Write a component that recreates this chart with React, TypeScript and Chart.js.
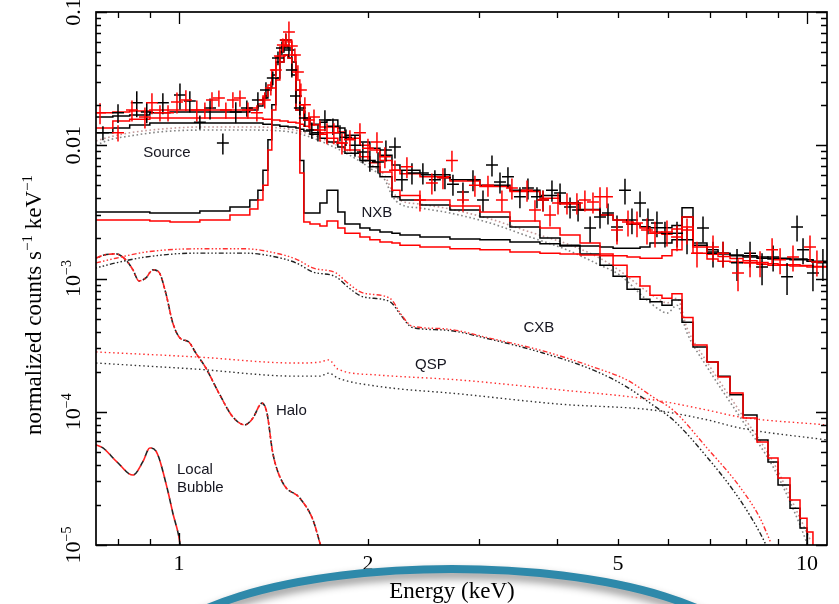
import React, { useEffect, useRef } from 'react';
import { Chart, registerables } from 'chart.js';

Chart.register(...registerables);

// ---------------- data (energy in keV, rate in counts s^-1 keV^-1) ----------------
const X_MIN = 0.738;
const X_MAX = 10.76;
const Y_MIN = 1e-5;
const Y_MAX = 0.1;

// common bin edges for the folded (stepped) model curves
const modelEdges = [0.738, 0.785, 0.835, 0.899, 0.968, 1.080, 1.206, 1.297, 1.336, 1.361, 1.386, 1.406, 1.427, 1.448, 1.470, 1.492, 1.513, 1.536, 1.558, 1.581, 1.617, 1.677, 1.721, 1.791, 1.838, 1.942, 2.014, 2.090, 2.184, 2.249, 2.420, 2.701, 3.015, 3.366, 3.757, 4.044, 4.351, 4.682, 4.912, 5.170, 5.422, 5.623, 5.876, 6.095, 6.324, 6.584, 6.931, 7.217, 7.541, 7.910, 8.325, 8.667, 8.992, 9.396, 9.747, 10.0, 10.22, 10.76];

const blackTotal = [0.0163, 0.0166, 0.0169, 0.0175, 0.0178, 0.0178, 0.0178, 0.0184, 0.0197, 0.0226, 0.0269, 0.0337, 0.0422, 0.0501, 0.0556, 0.0537, 0.0422, 0.0260, 0.0184, 0.0155, 0.0144, 0.0149, 0.0155, 0.0135, 0.0119, 0.0106, 0.0095, 0.0084, 0.0071, 0.0065, 0.0060, 0.0055, 0.0050, 0.0046, 0.0042, 0.0037, 0.0033, 0.0030, 0.00275, 0.00255, 0.00245, 0.0024, 0.0024, 0.0025, 0.0034, 0.00185, 0.00158, 0.00153, 0.00148, 0.00145, 0.00142, 0.00140, 0.00140, 0.00138, 0.00138, 0.00135, 0.00133];
const redTotal = [0.0175, 0.0178, 0.0181, 0.0184, 0.0184, 0.0184, 0.0184, 0.0190, 0.0204, 0.0234, 0.0283, 0.0367, 0.0460, 0.0546, 0.0617, 0.0596, 0.0476, 0.0309, 0.0201, 0.0160, 0.0142, 0.0137, 0.0137, 0.0126, 0.0113, 0.0100, 0.0092, 0.0077, 0.0065, 0.0061, 0.0058, 0.0054, 0.0049, 0.0045, 0.0040, 0.00362, 0.00327, 0.00300, 0.00275, 0.00256, 0.00239, 0.00223, 0.00215, 0.00235, 0.0029, 0.00172, 0.00152, 0.00146, 0.00141, 0.00136, 0.00132, 0.00129, 0.00127, 0.00127, 0.00125, 0.00125, 0.00123];
const blackNXB = [0.00315, 0.00315, 0.00315, 0.00310, 0.00310, 0.00321, 0.00344, 0.00388, 0.0046, 0.0065, 0.0110, 0.0201, 0.0320, 0.0422, 0.0476, 0.0452, 0.0337, 0.0184, 0.0077, 0.00310, 0.00310, 0.00369, 0.0046, 0.00315, 0.00256, 0.00239, 0.00231, 0.00223, 0.00219, 0.00212, 0.00205, 0.00198, 0.00195, 0.00188, 0.00182, 0.00178, 0.00175, 0.00172, 0.00169, 0.00169, 0.00172, 0.00185, 0.00185, 0.00195, 0.00289, 0.00178, 0.00164, 0.00155, 0.00150, 0.00148, 0.00145, 0.00142, 0.00142, 0.00140, 0.00140, 0.00138, 0.00135];
const redNXB = [0.00275, 0.00275, 0.00275, 0.00270, 0.00265, 0.00275, 0.00300, 0.00332, 0.00388, 0.0050, 0.0092, 0.0184, 0.0309, 0.0422, 0.0476, 0.0452, 0.0367, 0.0184, 0.0062, 0.00265, 0.00256, 0.00248, 0.00270, 0.00239, 0.00219, 0.00205, 0.00195, 0.00188, 0.00185, 0.00178, 0.00172, 0.00167, 0.00164, 0.00158, 0.00155, 0.00153, 0.00150, 0.00148, 0.00148, 0.00145, 0.00142, 0.00142, 0.00148, 0.00164, 0.00243, 0.00155, 0.00140, 0.00135, 0.00133, 0.00131, 0.00128, 0.00126, 0.00126, 0.00124, 0.00124, 0.00122, 0.00122];
const blackSky = [0.0124, 0.0135, 0.0142, 0.0147, 0.0147, 0.0147, 0.0147, 0.0147, 0.0147, 0.0144, 0.0144, 0.0142, 0.0142, 0.0139, 0.0139, 0.0137, 0.0137, 0.0135, 0.0132, 0.0128, 0.0121, 0.0113, 0.0106, 0.0097, 0.0087, 0.0077, 0.0069, 0.0058, 0.0041, 0.00388, 0.00356, 0.00327, 0.00289, 0.00243, 0.00201, 0.00175, 0.00153, 0.00126, 0.00104, 0.00083, 0.00070, 0.00067, 0.00063, 0.00069, 0.00047, 0.000306, 0.000236, 0.000185, 0.000134, 0.0000945, 0.0000614, 0.000042, 0.0000282, 0.0000189, 0.0000134, 0.000006, 0.000003];
const redSky = [0.0135, 0.0152, 0.0157, 0.0160, 0.0160, 0.0160, 0.0160, 0.0160, 0.0160, 0.0157, 0.0157, 0.0155, 0.0155, 0.0152, 0.0152, 0.0149, 0.0149, 0.0147, 0.0144, 0.0139, 0.0130, 0.0121, 0.0113, 0.0104, 0.0092, 0.0082, 0.0074, 0.0063, 0.0046, 0.0042, 0.00388, 0.00350, 0.00315, 0.00270, 0.00239, 0.00212, 0.00185, 0.00153, 0.00126, 0.00103, 0.00088, 0.00075, 0.00071, 0.00077, 0.00051, 0.000317, 0.000236, 0.000182, 0.000138, 0.0000898, 0.0000593, 0.000045, 0.0000318, 0.0000218, 0.0000159, 0.0000125, 0.000004];

// smooth model components
const sourceE = [0.738, 0.776, 0.835, 0.933, 1.080, 1.297, 1.502, 1.617, 1.740, 1.872, 2.014, 2.128, 2.184, 2.249, 2.420, 2.701, 3.128, 3.622, 4.148, 4.682, 5.037, 5.521, 5.833, 5.985, 6.209, 6.441, 6.931, 7.822, 8.831, 9.747, 10.11];
const sourceBlack = [0.0100, 0.0110, 0.01173, 0.0126, 0.0130, 0.0130, 0.0126, 0.01153, 0.0100, 0.0084, 0.00675, 0.0055, 0.0042, 0.00362, 0.00338, 0.00310, 0.00261, 0.00205, 0.00164, 0.00126, 0.00106, 0.00071, 0.00058, 0.00055, 0.00063, 0.00039, 0.000217, 0.0000913, 0.0000385, 0.0000141, 0.0000089];
const sourceRed = [0.01076, 0.01153, 0.0124, 0.0132, 0.0137, 0.0137, 0.0132, 0.0121, 0.0106, 0.0089, 0.00723, 0.00588, 0.0046, 0.00388, 0.00362, 0.00332, 0.00280, 0.00223, 0.00182, 0.00142, 0.00114, 0.00082, 0.00069, 0.000655, 0.00071, 0.000425, 0.000236, 0.0001, 0.000042, 0.0000159, 0.000011];

const cxbE = [0.738, 0.794, 0.886, 1.064, 1.278, 1.427, 1.536, 1.634, 1.778, 1.865, 1.963, 2.168, 2.257, 2.350, 2.633, 3.162, 3.799, 4.563, 5.170, 5.685, 6.119, 6.931, 7.822, 8.418, 8.75];
const cxbBlack = [0.00120, 0.00131, 0.00145, 0.00155, 0.00155, 0.00145, 0.00131, 0.00112, 0.00103, 0.00085, 0.00073, 0.00067, 0.00053, 0.00043, 0.000411, 0.000346, 0.000276, 0.000206, 0.000153, 0.000112, 0.000087, 0.0000457, 0.0000218, 0.0000123, 0.0000085];
const cxbRed = [0.00131, 0.00142, 0.00158, 0.00167, 0.00167, 0.00155, 0.00140, 0.00120, 0.00110, 0.00091, 0.00078, 0.00071, 0.00054, 0.00044, 0.00042, 0.000352, 0.000286, 0.000217, 0.000173, 0.000129, 0.000103, 0.0000535, 0.0000272, 0.0000159, 0.0000105];

const qspE = [0.738, 1.064, 1.536, 1.677, 1.733, 1.791, 2.059, 2.802, 4.044, 5.685, 6.931, 7.822, 10.76];
const qspRed = [0.000281, 0.000258, 0.000232, 0.000236, 0.000245, 0.000209, 0.000189, 0.000173, 0.000146, 0.000123, 0.000103, 0.0000913, 0.0000796];
const qspBlack = [0.000232, 0.000209, 0.000185, 0.000185, 0.000195, 0.000179, 0.000156, 0.000136, 0.000114, 0.000103, 0.000087, 0.0000755, 0.0000614];

const haloE = [0.738, 0.760, 0.794, 0.823, 0.845, 0.864, 0.886, 0.909, 0.929, 0.953, 0.978, 1.004, 1.037, 1.064, 1.104, 1.158, 1.219, 1.274, 1.312, 1.356, 1.381, 1.411, 1.464, 1.558, 1.634, 1.677, 1.689];
const haloV = [0.00142, 0.00150, 0.00153, 0.00138, 0.00116, 0.000958, 0.00101, 0.00116, 0.00112, 0.00078, 0.000463, 0.000358, 0.000334, 0.000276, 0.000213, 0.000138, 0.0000913, 0.0000796, 0.0000898, 0.000116, 0.000098, 0.000049, 0.0000292, 0.0000225, 0.0000155, 0.00001035, 0.0000092];

const lbE = [0.738, 0.757, 0.797, 0.845, 0.876, 0.899, 0.923, 0.957, 0.978, 1.004, 1.007];
const lbV = [0.0000563, 0.0000535, 0.000042, 0.0000335, 0.000042, 0.0000535, 0.000049, 0.0000272, 0.0000174, 0.00001035, 0.0000092];

// observed spectra (two sensors)
const blackE = [0.757, 0.800, 0.857, 0.889, 0.943, 1.004, 1.041, 1.080, 1.121, 1.175, 1.232, 1.283, 1.336, 1.376, 1.411, 1.438, 1.459, 1.480, 1.497, 1.513, 1.536, 1.558, 1.587, 1.628, 1.665, 1.708, 1.759, 1.805, 1.845, 1.907, 1.963, 2.014, 2.075, 2.136, 2.208, 2.265, 2.350, 2.446, 2.556, 2.652, 2.731, 2.833, 2.939, 3.049, 3.151, 3.245, 3.341, 3.491, 3.595, 3.716, 3.799, 3.926, 4.044, 4.195, 4.320, 4.515, 4.682, 4.821, 4.983, 5.131, 5.264, 5.422, 5.582, 5.769, 5.941, 6.209, 6.441, 6.830, 7.085, 7.350, 7.737, 8.115, 8.480, 8.831, 9.294, 9.641, 9.855, 10.22, 10.60];
const blackV = [0.0124, 0.0175, 0.0208, 0.0178, 0.0208, 0.0238, 0.0215, 0.0149, 0.0190, 0.0104, 0.0178, 0.0190, 0.0219, 0.0260, 0.0320, 0.0452, 0.0537, 0.0617, 0.0519, 0.0367, 0.0234, 0.0190, 0.0160, 0.0130, 0.0124, 0.0155, 0.0139, 0.0124, 0.0115, 0.0100, 0.0089, 0.0077, 0.0075, 0.0092, 0.0097, 0.0055, 0.0062, 0.0062, 0.0055, 0.0057, 0.0051, 0.00446, 0.0055, 0.00388, 0.0071, 0.0053, 0.0058, 0.0041, 0.00478, 0.0041, 0.00388, 0.0046, 0.00438, 0.00344, 0.00327, 0.00239, 0.00289, 0.00310, 0.00243, 0.0046, 0.00275, 0.00369, 0.00275, 0.00261, 0.00219, 0.00219, 0.00195, 0.00239, 0.00155, 0.00155, 0.00131, 0.00155, 0.00122, 0.00145, 0.00103, 0.00243, 0.00164, 0.00110, 0.00131];
const blackErr = [0.12, 0.16, 0.22, 0.18, 0.18, 0.22, 0.18, 0.12, 0.18, 0.18, 0.18, 0.14, 0.14, 0.14, 0.12, 0.12, 0.12, 0.12, 0.12, 0.12, 0.12, 0.12, 0.14, 0.14, 0.14, 0.18, 0.14, 0.14, 0.14, 0.18, 0.18, 0.18, 0.18, 0.18, 0.18, 0.18, 0.18, 0.18, 0.18, 0.18, 0.18, 0.18, 0.18, 0.18, 0.18, 0.18, 0.18, 0.18, 0.18, 0.18, 0.18, 0.18, 0.18, 0.18, 0.18, 0.22, 0.18, 0.18, 0.22, 0.22, 0.22, 0.22, 0.22, 0.22, 0.22, 0.22, 0.22, 0.22, 0.22, 0.22, 0.27, 0.22, 0.27, 0.22, 0.27, 0.22, 0.22, 0.27, 0.27];

const redE = [0.749, 0.800, 0.842, 0.883, 0.906, 0.933, 0.961, 0.993, 1.026, 1.068, 1.100, 1.129, 1.158, 1.188, 1.219, 1.251, 1.288, 1.331, 1.370, 1.401, 1.427, 1.448, 1.464, 1.480, 1.497, 1.513, 1.530, 1.547, 1.564, 1.587, 1.611, 1.641, 1.677, 1.721, 1.765, 1.818, 1.872, 1.942, 2.000, 2.067, 2.128, 2.208, 2.307, 2.420, 2.528, 2.633, 2.721, 2.833, 2.960, 3.105, 3.268, 3.390, 3.583, 3.689, 3.799, 3.898, 4.014, 4.148, 4.302, 4.430, 4.563, 4.682, 4.803, 4.983, 5.188, 5.362, 5.562, 5.728, 5.985, 6.209, 6.441, 6.681, 7.085, 7.350, 7.765, 8.115, 8.418, 8.798, 9.060, 9.499, 10.11, 10.37];
const redV = [0.0175, 0.0124, 0.0184, 0.0163, 0.0208, 0.0175, 0.0175, 0.0211, 0.0219, 0.0184, 0.0184, 0.0219, 0.0226, 0.0184, 0.0219, 0.0226, 0.0184, 0.0175, 0.0219, 0.0269, 0.0367, 0.0468, 0.0565, 0.0617, 0.0708, 0.0556, 0.0476, 0.0355, 0.0260, 0.0201, 0.0155, 0.0163, 0.0130, 0.0124, 0.0124, 0.0104, 0.0110, 0.0124, 0.0095, 0.0106, 0.0082, 0.0065, 0.0069, 0.00388, 0.0052, 0.0057, 0.0077, 0.00388, 0.0050, 0.0050, 0.00388, 0.00478, 0.0046, 0.00327, 0.00388, 0.00300, 0.00369, 0.00369, 0.00369, 0.00388, 0.00375, 0.0041, 0.0041, 0.00231, 0.00265, 0.00261, 0.00231, 0.00219, 0.00223, 0.00205, 0.00231, 0.00155, 0.00172, 0.00155, 0.00110, 0.00131, 0.00131, 0.00164, 0.00138, 0.00145, 0.00172, 0.00133];
const redErr = [0.18, 0.14, 0.18, 0.18, 0.18, 0.14, 0.14, 0.18, 0.18, 0.18, 0.14, 0.14, 0.14, 0.14, 0.14, 0.14, 0.14, 0.14, 0.14, 0.12, 0.12, 0.12, 0.12, 0.12, 0.2, 0.12, 0.12, 0.12, 0.12, 0.14, 0.14, 0.14, 0.18, 0.18, 0.18, 0.18, 0.18, 0.18, 0.18, 0.18, 0.18, 0.18, 0.18, 0.18, 0.18, 0.18, 0.18, 0.18, 0.18, 0.18, 0.18, 0.18, 0.18, 0.18, 0.18, 0.18, 0.18, 0.18, 0.18, 0.18, 0.18, 0.18, 0.18, 0.22, 0.22, 0.22, 0.22, 0.22, 0.22, 0.22, 0.22, 0.22, 0.22, 0.22, 0.27, 0.22, 0.22, 0.22, 0.22, 0.22, 0.22, 0.22];
const BIN_HALF_DEX = 0.0095; // half width of a spectral bin, in decades of energy

// axis ticks
const xTickValues = [1, 2, 5, 10];
const xTickLabels = ['1', '2', '5', '10'];
const xMajorTicks = [1, 10];
const xMinorTicks = [0.8, 0.9, 2, 3, 4, 5, 6, 7, 8, 9];
const yTickValues = [0.1, 0.01, 0.001, 1e-4, 1e-5];
const yTickBase = ['0.1', '0.01', '10', '10', '10'];
const yTickExp = ['', '', '−3', '−4', '−5'];

// component annotations (anchored in data units)
const labelTexts = ['Source', 'NXB', 'CXB', 'QSP', 'Halo', 'Local', 'Bubble'];
const labelE = [0.957, 2.067, 3.743, 2.519, 1.427, 0.993, 0.993];
const labelV = [0.0087, 0.0031, 0.000425, 0.000224, 0.000102, 0.0000366, 0.0000268];
const labelCentered = [true, true, true, true, false, false, false];

// ---------------- drawing ----------------
const SERIF = '"Liberation Serif", "Times New Roman", Times, serif';
const SANS = '"Liberation Sans", Arial, Helvetica, sans-serif';

function steps(edges: number[], vals: number[]) {
  const pts = vals.map((v, i) => ({ x: edges[i], y: v }));
  pts.push({ x: edges[edges.length - 1], y: vals[vals.length - 1] });
  return pts;
}
function curve(es: number[], vs: number[]) {
  return es.map((e, i) => ({ x: e, y: vs[i] }));
}

function crosses(ctx: CanvasRenderingContext2D, xs: any, ys: any, E: number[], V: number[], err: number[], color: string) {
  const f = Math.pow(10, BIN_HALF_DEX);
  ctx.strokeStyle = color;
  ctx.lineWidth = 1.5;
  ctx.beginPath();
  for (let i = 0; i < E.length; i++) {
    const px = xs.getPixelForValue(E[i]);
    const py = ys.getPixelForValue(V[i]);
    ctx.moveTo(xs.getPixelForValue(E[i] / f), py);
    ctx.lineTo(xs.getPixelForValue(E[i] * f), py);
    ctx.moveTo(px, ys.getPixelForValue(V[i] * (1 + err[i])));
    ctx.lineTo(px, ys.getPixelForValue(V[i] * (1 - err[i])));
  }
  ctx.stroke();
}

function drawSupText(ctx: CanvasRenderingContext2D, parts: { t: string; sup: boolean }[], size: number, supSize: number, rise: number) {
  const widths = parts.map((p) => {
    ctx.font = `${p.sup ? supSize : size}px ${SERIF}`;
    return ctx.measureText(p.t).width;
  });
  const total = widths.reduce((a, b) => a + b, 0);
  let x = -total / 2;
  ctx.textAlign = 'left';
  ctx.textBaseline = 'alphabetic';
  parts.forEach((p, i) => {
    ctx.font = `${p.sup ? supSize : size}px ${SERIF}`;
    ctx.fillText(p.t, x, p.sup ? -rise : 0);
    x += widths[i];
  });
}

const overlayPlugin = {
  id: 'overlay',
  afterDatasetsDraw(chart: any) {
    const { ctx, chartArea: a, scales } = chart;
    const xs = scales.x;
    const ys = scales.y;

    ctx.save();
    ctx.beginPath();
    ctx.rect(a.left, a.top, a.right - a.left, a.bottom - a.top);
    ctx.clip();
    crosses(ctx, xs, ys, blackE, blackV, blackErr, '#000000');
    crosses(ctx, xs, ys, redE, redV, redErr, '#ff0000');
    ctx.restore();

    // component labels
    ctx.save();
    ctx.font = `15px ${SANS}`;
    ctx.fillStyle = '#15151f';
    ctx.textBaseline = 'middle';
    labelTexts.forEach((t, i) => {
      ctx.textAlign = labelCentered[i] ? 'center' : 'left';
      ctx.fillText(t, xs.getPixelForValue(labelE[i]), ys.getPixelForValue(labelV[i]));
    });
    ctx.restore();

    // frame + inward ticks on all four sides
    ctx.save();
    ctx.strokeStyle = '#000';
    ctx.lineWidth = 1.7;
    ctx.strokeRect(a.left, a.top, a.right - a.left, a.bottom - a.top);
    ctx.lineWidth = 1.3;
    ctx.beginPath();
    const xt = [...xMajorTicks.map((v) => [v, 12]), ...xMinorTicks.map((v) => [v, 6])];
    xt.forEach(([v, len]) => {
      const px = Math.round(xs.getPixelForValue(v)) + 0.5;
      ctx.moveTo(px, a.bottom);
      ctx.lineTo(px, a.bottom - len);
      ctx.moveTo(px, a.top);
      ctx.lineTo(px, a.top + len);
    });
    yTickValues.forEach((dec) => {
      const pm = Math.round(ys.getPixelForValue(dec)) + 0.5;
      ctx.moveTo(a.left, pm);
      ctx.lineTo(a.left + 11, pm);
      ctx.moveTo(a.right, pm);
      ctx.lineTo(a.right - 11, pm);
      if (dec < Y_MAX) {
        for (let k = 2; k <= 9; k++) {
          const py = Math.round(ys.getPixelForValue(dec * k)) + 0.5;
          ctx.moveTo(a.left, py);
          ctx.lineTo(a.left + 5, py);
          ctx.moveTo(a.right, py);
          ctx.lineTo(a.right - 6, py);
        }
      }
    });
    ctx.stroke();

    // tick labels
    ctx.fillStyle = '#000';
    ctx.font = `22px ${SERIF}`;
    ctx.textAlign = 'center';
    ctx.textBaseline = 'alphabetic';
    xTickValues.forEach((v, i) => {
      ctx.fillText(xTickLabels[i], xs.getPixelForValue(v), a.bottom + 25);
    });
    yTickValues.forEach((v, i) => {
      ctx.save();
      ctx.translate(a.left - 16, ys.getPixelForValue(v));
      ctx.rotate(-Math.PI / 2);
      const parts = [{ t: yTickBase[i], sup: false }];
      if (yTickExp[i]) parts.push({ t: yTickExp[i], sup: true });
      drawSupText(ctx, parts, 22, 14, 9);
      ctx.restore();
    });
    ctx.restore();
  },
  afterDraw(chart: any) {
    const { ctx } = chart;
    // decorative slide arc overlapping the bottom of the figure
    ctx.save();
    ctx.shadowColor = 'rgba(0,0,0,0.45)';
    ctx.shadowBlur = 9;
    ctx.shadowOffsetY = 5;
    ctx.strokeStyle = '#2e89aa';
    ctx.lineWidth = 8;
    ctx.beginPath();
    ctx.ellipse(452, 662, 300, 93, 0, Math.PI, 2 * Math.PI);
    ctx.stroke();
    ctx.restore();

    // axis titles
    ctx.save();
    ctx.fillStyle = '#000';
    ctx.font = `23px ${SERIF}`;
    ctx.textAlign = 'center';
    ctx.textBaseline = 'alphabetic';
    ctx.fillText('Energy (keV)', 452, 598);
    ctx.restore();

    ctx.save();
    ctx.fillStyle = '#000';
    ctx.translate(41, 305);
    ctx.rotate(-Math.PI / 2);
    drawSupText(
      ctx,
      [
        { t: 'normalized counts s', sup: false },
        { t: '−1', sup: true },
        { t: ' keV', sup: false },
        { t: '−1', sup: true },
      ],
      23,
      15,
      9
    );
    ctx.restore();
  },
};

function buildConfig(): any {
  const solid = (data: any, color: string, order: number) => ({
    data,
    borderColor: color,
    borderWidth: 1.5,
    stepped: 'before',
    pointRadius: 0,
    fill: false,
    order,
  });
  const smooth = (data: any, color: string, dash: number[], offset: number, order: number, width = 1.5) => ({
    data,
    borderColor: color,
    borderWidth: width,
    borderDash: dash,
    borderDashOffset: offset,
    cubicInterpolationMode: 'monotone',
    pointRadius: 0,
    fill: false,
    order,
  });
  const RED = '#ff0000';
  const BLK = '#000000';
  const datasets = [
    solid(steps(modelEdges, redTotal), RED, 1),
    solid(steps(modelEdges, redNXB), RED, 1),
    solid(steps(modelEdges, redSky), RED, 1),
    solid(steps(modelEdges, blackTotal), BLK, 2),
    solid(steps(modelEdges, blackNXB), BLK, 2),
    solid(steps(modelEdges, blackSky), BLK, 2),
    smooth(curve(sourceE, sourceRed), 'rgba(190,140,140,0.9)', [1.6, 2.6], 0, 4, 1.6),
    smooth(curve(sourceE, sourceBlack), 'rgba(120,120,120,0.9)', [1.6, 2.6], 0, 4, 1.6),
    smooth(curve(cxbE, cxbRed), '#ff3030', [5, 2.2, 1.5, 2.2, 1.5, 2.2, 1.5, 2.2], 0, 3, 1.4),
    smooth(curve(cxbE, cxbBlack), '#222', [5, 2.2, 1.5, 2.2, 1.5, 2.2, 1.5, 2.2], 4, 3, 1.4),
    smooth(curve(qspE, qspRed), '#ff3030', [1.5, 2.8], 0, 3, 1.4),
    smooth(curve(qspE, qspBlack), '#333', [1.5, 2.8], 0, 3, 1.4),
    smooth(curve(haloE, haloV), '#ff2020', [6, 3, 1.5, 3], 0, 3, 1.6),
    smooth(curve(haloE, haloV), '#222', [6, 3, 1.5, 3], 6, 3, 1.6),
    smooth(curve(lbE, lbV), '#ff2020', [6, 5], 0, 3, 1.6),
    smooth(curve(lbE, lbV), '#222', [6, 5], 5.5, 3, 1.6),
  ];
  const forceX = (s: any) => {
    s.min = X_MIN;
    s.max = X_MAX;
  };
  const forceY = (s: any) => {
    s.min = Y_MIN;
    s.max = Y_MAX;
  };
  return {
    type: 'line',
    data: { datasets },
    options: {
      responsive: false,
      animation: false,
      devicePixelRatio: 1,
      layout: { padding: { left: 96, top: 12, right: 12, bottom: 59 } },
      plugins: { legend: { display: false }, tooltip: { enabled: false } },
      elements: { point: { radius: 0 } },
      scales: {
        x: { type: 'logarithmic', min: X_MIN, max: X_MAX, bounds: 'data', display: false, afterBuildTicks: forceX, afterDataLimits: forceX },
        y: { type: 'logarithmic', min: Y_MIN, max: Y_MAX, bounds: 'data', display: false, afterBuildTicks: forceY, afterDataLimits: forceY },
      },
    },
    plugins: [overlayPlugin],
  };
}

export default function App() {
  const ref = useRef<HTMLCanvasElement | null>(null);
  useEffect(() => {
    if (!ref.current) return;
    const chart = new Chart(ref.current, buildConfig());
    return () => chart.destroy();
  }, []);
  return (
    <div style={{ position: 'absolute', left: 0, top: 0, width: 839, height: 604, background: '#ffffff', overflow: 'hidden' }}>
      <canvas ref={ref} width={839} height={604} style={{ display: 'block', width: 839, height: 604 }} />
    </div>
  );
}
